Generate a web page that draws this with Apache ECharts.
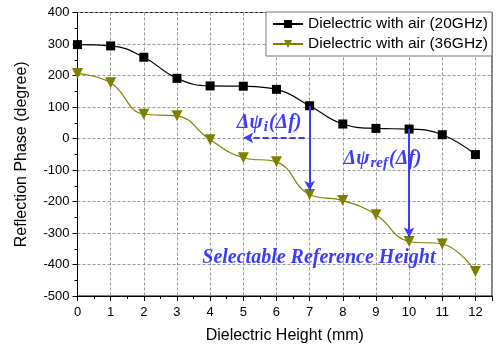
<!DOCTYPE html>
<html><head><meta charset="utf-8">
<script src="https://cdn.jsdelivr.net/npm/echarts@6/dist/echarts.min.js"></script>
<style>html,body{margin:0;padding:0;background:#fff}#c{width:497px;height:349px}</style>
</head><body><div id="c"></div>
<script>
const heights = [0,1,2,3,4,5,6,7,8,9,10,11,12];
const phase20 = [298,294,258,191,167,166,156,104,46,32,30,12,-51];
const phase36 = [206,177,77,72,-4,-61,-74,-178,-197,-242,-327,-335,-422];
const xTicks = {min:0, max:12.5, interval:1};
const yTicks = {min:-500, max:400, interval:100};
const seriesNames = ['Dielectric with air (20GHz)','Dielectric with air (36GHz)'];
// annotation arrows: [x1,y1,x2,y2]
const solidArrows = [[7,104,7,-166],[10,30,10,-314]];
const dashedArrow = [6.85,2,5,2];
const annotations = [
  {x:5.78, y:50, key:'i'},
  {x:9.2, y:-63, key:'ref'},
  {x:7.28, y:-380, key:'sel'}
];
const blue = '#3c3cff';

const chart = echarts.init(document.getElementById('c'), null, {renderer:'canvas'});
const font = 'Liberation Sans, Arial, sans-serif';
const serif = 'Liberation Serif, Times New Roman, serif';

const arrowLines = solidArrows.map(a => [{coord:[a[0],a[1]]},{coord:[a[2],a[3]]}]);
arrowLines.push([{coord:[dashedArrow[0],dashedArrow[1]], lineStyle:{type:[6,3]}},{coord:[dashedArrow[2],dashedArrow[3]]}]);

chart.setOption({
  animation:false,
  grid:{left:77.5, right:5, top:12.5, bottom:50, show:true, borderColor:'#000', borderWidth:1, backgroundColor:'transparent'},
  legend:{
    right:5, top:12, orient:'vertical', itemGap:4, itemWidth:30, itemHeight:10,
    backgroundColor:'#fff', borderColor:'#777', borderWidth:1, padding:[4,4,4,6],
    textStyle:{fontFamily:font, fontSize:15.5, color:'#000'},
    data:seriesNames
  },
  xAxis:{
    type:'value', min:xTicks.min, max:xTicks.max, interval:xTicks.interval,
    name:'Dielectric Height (mm)', nameLocation:'middle', nameGap:32,
    nameTextStyle:{fontFamily:font, fontSize:16, color:'#000'},
    axisLine:{onZero:false, lineStyle:{color:'#000', width:1}},
    axisTick:{show:true, length:5, lineStyle:{color:'#000'}},
    minorTick:{show:true, splitNumber:2, length:3, lineStyle:{color:'#000'}},
    axisLabel:{fontFamily:font, fontSize:13, color:'#000', margin:10,
      formatter:v => Number.isInteger(v) ? String(v) : ''},
    splitLine:{show:true, lineStyle:{color:'#999', type:[3,2], width:1}}
  },
  yAxis:{
    type:'value', min:yTicks.min, max:yTicks.max, interval:yTicks.interval,
    name:'Reflection Phase (degree)', nameLocation:'middle', nameGap:48,
    nameTextStyle:{fontFamily:font, fontSize:16, color:'#000'},
    axisLine:{onZero:false, lineStyle:{color:'#000', width:1}},
    axisTick:{show:true, length:5, lineStyle:{color:'#000'}},
    minorTick:{show:true, splitNumber:2, length:3, lineStyle:{color:'#000'}},
    axisLabel:{fontFamily:font, fontSize:13, color:'#000', margin:8},
    splitLine:{show:true, lineStyle:{color:'#999', type:[3,2], width:1}}
  },
  series:[
    {
      name:seriesNames[0], type:'line', smooth:0.45,
      data:heights.map((h,i)=>[h,phase20[i]]),
      symbol:'rect', symbolSize:9,
      itemStyle:{color:'#000'}, lineStyle:{color:'#000', width:1.2},
      z:3
    },
    {
      name:seriesNames[1], type:'line', smooth:0.45,
      data:heights.map((h,i)=>[h,phase36[i]]),
      symbol:'triangle', symbolRotate:180, symbolSize:11,
      itemStyle:{color:'#808000'}, lineStyle:{color:'#808000', width:1.2},
      z:3,
      markLine:{
        silent:true, symbol:['none','arrow'], symbolSize:[8,10], precision:2,
        label:{show:false},
        lineStyle:{color:blue, width:2, type:'solid'},
        emphasis:{disabled:true},
        data:arrowLines
      }
    }
  ]
});

function addText(){
  const rich = {
    a:{fontFamily:serif, fontSize:20, fontWeight:'bold', fontStyle:'italic', fill:blue},
    s:{fontFamily:serif, fontSize:15, fontWeight:'bold', fontStyle:'italic', fill:blue, padding:[9,1,0,1]}
  };
  const texts = {
    i:'{a|Δψ}{s|i}{a|(Δ}{a|f)}',
    ref:'{a|Δψ}{s|ref}{a|(Δ}{a|f)}',
    sel:'Selectable Reference Height'
  };
  const g = annotations.map(a => {
    const p = chart.convertToPixel({gridIndex:0}, [a.x, a.y]);
    if (a.key === 'sel') {
      return {type:'text', x:p[0], y:p[1], z:10, style:{text:texts.sel, align:'center', verticalAlign:'middle',
        fontFamily:serif, fontSize:20, fontWeight:'bold', fontStyle:'italic', fill:blue}};
    }
    return {type:'text', x:p[0], y:p[1], z:10, style:{text:texts[a.key], rich:rich, fill:blue, align:'center', verticalAlign:'middle'}};
  });
  chart.setOption({graphic:g});
}
addText();
</script></body></html>
